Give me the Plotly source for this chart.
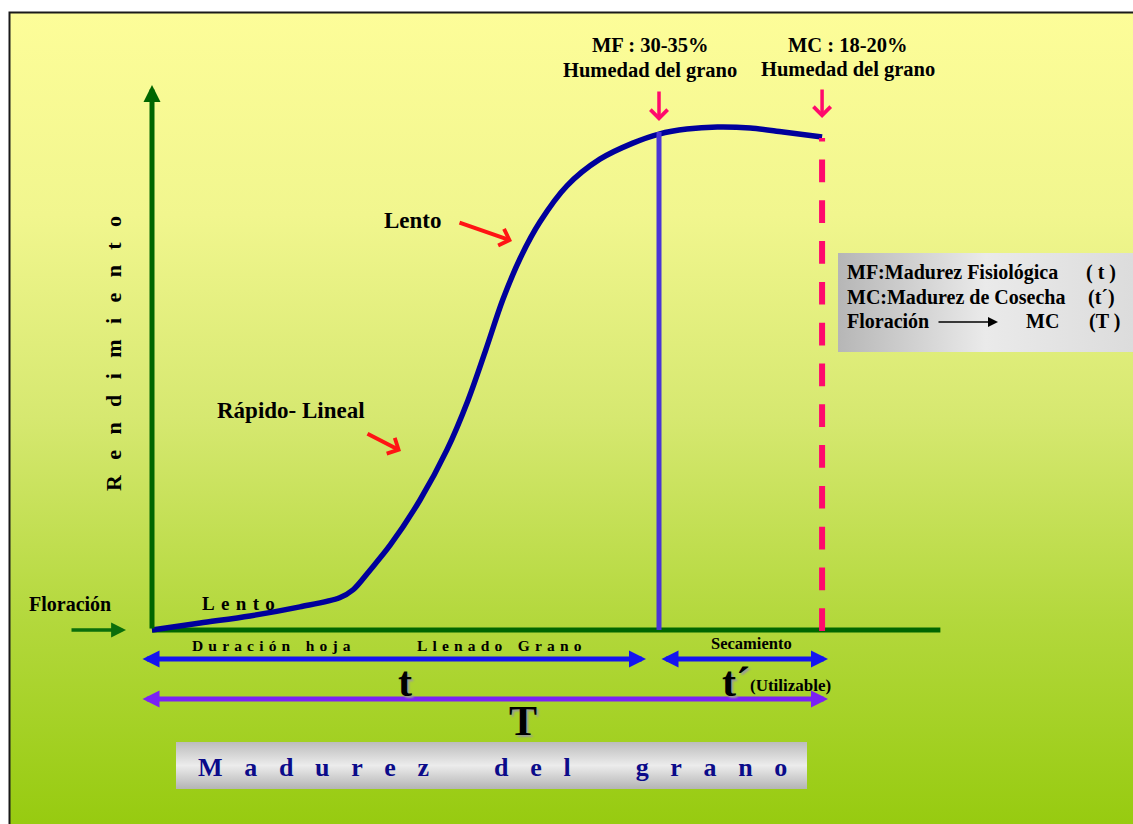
import plotly.graph_objects as go

# Curva de rendimiento: tiempo desde floración (días aprox.) vs rendimiento relativo (%)
tiempo = [0, 5.7, 11.6, 17.5, 22.2, 23.8, 25.8, 28.2, 31.7, 34.9, 37.4, 39.5,
          41.5, 43.6, 45.9, 49.1, 53.0, 56.9, 60.0, 63.3, 66.9, 70.8, 74.7, 79.3]
rendimiento = [0, 1.4, 2.8, 4.6, 6.4, 8.0, 11.9, 16.9, 25.8, 35.8, 45.7, 55.7,
               65.6, 74.0, 81.1, 88.3, 93.6, 96.8, 98.6, 99.6, 100.0, 99.8, 99.0, 98.0]

t_mf, rend_mf = 60.0, 98.6     # madurez fisiológica (MF)
t_mc, rend_mc = 79.3, 98.0     # madurez de cosecha (MC)
t_eje_fin = 93.3               # extremo del eje horizontal

W, H = 1133, 824
# escala de la página: origen del gráfico y píxeles por unidad
OX, OY, KX, KY = 152, 630, 8.45, 5.03


def X(p):
    return (p - OX) / KX


def Y(p):
    return (OY - p) / KY


SERIF = "Liberation Serif, Times New Roman, serif"

fig = go.Figure()

# fondo degradado amarillo -> verde
fig.add_trace(go.Scatter(
    x=[X(9), X(W), X(W), X(9), X(9)], y=[Y(12), Y(12), Y(H), Y(H), Y(12)],
    mode="lines", fill="toself", line=dict(width=0),
    fillgradient=dict(type="vertical", colorscale=[
        [0.0, "#97cb10"], [0.25, "#b3d83c"], [0.5, "#d6e870"],
        [0.75, "#f1f68e"], [1.0, "#fdfd99"]]),
    hoverinfo="skip"))

# recuadro de leyenda (gris)
fig.add_trace(go.Scatter(
    x=[X(838), X(W), X(W), X(838), X(838)], y=[Y(253), Y(253), Y(352), Y(352), Y(253)],
    mode="lines", fill="toself", line=dict(width=0),
    fillgradient=dict(type="horizontal", colorscale=[
        [0.0, "#b6b6b6"], [0.5, "#eaeaea"], [1.0, "#dcdcdc"]]),
    hoverinfo="skip"))

# recuadro "Madurez del grano"
fig.add_trace(go.Scatter(
    x=[X(176), X(807), X(807), X(176), X(176)], y=[Y(742), Y(742), Y(789), Y(789), Y(742)],
    mode="lines", fill="toself", line=dict(width=0),
    fillgradient=dict(type="vertical", colorscale=[
        [0.0, "#b4b4b4"], [0.5, "#ececec"], [1.0, "#bcbcbc"]]),
    hoverinfo="skip"))

# eje horizontal
fig.add_trace(go.Scatter(x=[0, t_eje_fin], y=[0, 0], mode="lines",
                         line=dict(color="#006600", width=5), hoverinfo="skip"))

# curva de rendimiento
fig.add_trace(go.Scatter(x=tiempo, y=rendimiento, mode="lines",
                         line=dict(color="#00009c", width=5.5, shape="spline", smoothing=0.9),
                         hoverinfo="skip"))

# línea de madurez fisiológica
fig.add_trace(go.Scatter(x=[t_mf, t_mf], y=[0, rend_mf + 0.4], mode="lines",
                         line=dict(color="#4a35d6", width=5), hoverinfo="skip"))

# línea discontinua de madurez de cosecha
fig.add_trace(go.Scatter(x=[t_mc, t_mc], y=[-0.2, rend_mc - 0.2], mode="lines",
                         line=dict(color="#ff0a6c", width=6, dash="22.7px,18.1px"),
                         hoverinfo="skip"))

ann = []


def flecha(x0, y0, x1, y1, color, width, head=2, size=1.0, doble=False):
    a = dict(x=x1, y=y1, ax=x0, ay=y0, xref="x", yref="y", axref="x", ayref="y",
             text="", showarrow=True, arrowhead=head, arrowsize=size,
             arrowwidth=width, arrowcolor=color, standoff=0, startstandoff=0)
    if doble:
        a.update(arrowside="end+start", startarrowhead=head, startarrowsize=size)
    ann.append(a)


def texto(t, px, py, size, color="black", anchor="center", angle=0, bold=True, shadow=None):
    f = dict(family=SERIF, size=size, color=color, weight="bold" if bold else "normal")
    if shadow:
        f["shadow"] = shadow
    ann.append(dict(x=X(px), y=Y(py), xref="x", yref="y", text=t, showarrow=False,
                    xanchor=anchor, yanchor="middle", textangle=angle, font=f))


# eje vertical con flecha
flecha(0, 0, 0, Y(85), "#006600", 5, head=2, size=0.68)
# flecha de floración
flecha(X(70), 0, X(126), 0, "#0b6e0b", 3.5, head=2, size=0.85)
# flechas rojas de fases
flecha(X(458), Y(222), X(512), Y(241), "#ff1414", 4, head=4, size=0.85)
flecha(X(366), Y(433), X(401), Y(451), "#ff1414", 4, head=4, size=0.85)
# flechas rosadas de MF y MC
flecha(t_mf, Y(90), t_mf, Y(121), "#ff0a6c", 3.5, head=4, size=0.95)
flecha(t_mc, Y(88), t_mc, Y(118), "#ff0a6c", 3.5, head=4, size=0.95)
# duraciones t, t' y T
flecha(X(141), Y(659), X(646), Y(659), "#1414f0", 5, head=2, size=0.68, doble=True)
flecha(X(660), Y(659), X(828), Y(659), "#1414f0", 5, head=2, size=0.68, doble=True)
flecha(X(141), Y(699), X(828), Y(699), "#7a22f5", 5, head=2, size=0.68, doble=True)
# flecha de la leyenda
flecha(X(937), Y(322), X(998), Y(322), "black", 1.5, head=2, size=1.33)

sp = "\u2002\u2009"
texto(sp.join("Rendimiento"), 113, 354, 22, angle=-90)
texto("MF : 30-35%", 650, 45, 20.5)
texto("Humedad del grano", 650, 70, 20.5)
texto("MC : 18-20%", 848, 45, 20.5)
texto("Humedad del grano", 848, 69, 20.5)
texto("Lento", 413, 220, 23)
texto("Rápido- Lineal", 291, 410, 23)
texto("Floración", 70, 604, 20)
texto("\u2004".join("Lento"), 238, 603, 19)
texto("\u2004".join("Duración") + "\u2003" + "\u2004".join("hoja"), 271, 645, 15.5)
texto("\u2004".join("Llenado") + "\u2003" + "\u2004".join("Grano"), 499, 645, 15.5)
texto("Secamiento", 751, 643, 16.5)
texto("t", 405, 682, 42, shadow="2px 2px 2px #9a9a9a")
texto("t´", 720, 682, 42, anchor="left", shadow="2px 2px 2px #9a9a9a")
texto("(Utilizable)", 748, 685, 17, anchor="left")
texto("T", 523, 721, 42, shadow="2px 2px 2px #9a9a9a")
sep = "\u2002\u2004"
palabra = lambda w: sep.join(w)
texto(palabra("Madurez") + "\u2003\u2003\u2002" + palabra("del") + "\u2003\u2003\u2002" + palabra("grano"),
      492, 767, 26, color="#0b0b8a")

# leyenda
texto("MF:Madurez Fisiológica", 845, 272, 20, anchor="left")
texto("MC:Madurez de Cosecha", 845, 297, 20, anchor="left")
texto("Floración", 845, 321, 20, anchor="left")
texto("MC", 1024, 321, 20, anchor="left")
texto("( t )", 1084, 272, 20, anchor="left")
texto("(t´)", 1086, 297, 20, anchor="left")
texto("(T )", 1087, 321, 20, anchor="left")

fig.update_layout(
    width=W, height=H, margin=dict(l=0, r=0, t=0, b=0),
    paper_bgcolor="white", plot_bgcolor="rgba(0,0,0,0)",
    showlegend=False, hovermode=False,
    xaxis=dict(range=[X(0), X(W)], visible=False, fixedrange=True),
    yaxis=dict(range=[Y(H), Y(0)], visible=False, fixedrange=True),
    annotations=ann,
    shapes=[dict(type="rect", xref="paper", yref="paper",
                 x0=9.5 / W, x1=1.01, y0=-0.01, y1=1 - 12.5 / H,
                 line=dict(color="#1a1a1a", width=2), fillcolor="rgba(0,0,0,0)",
                 layer="above")],
)

fig.write_html("out.html", config={"displayModeBar": False})
